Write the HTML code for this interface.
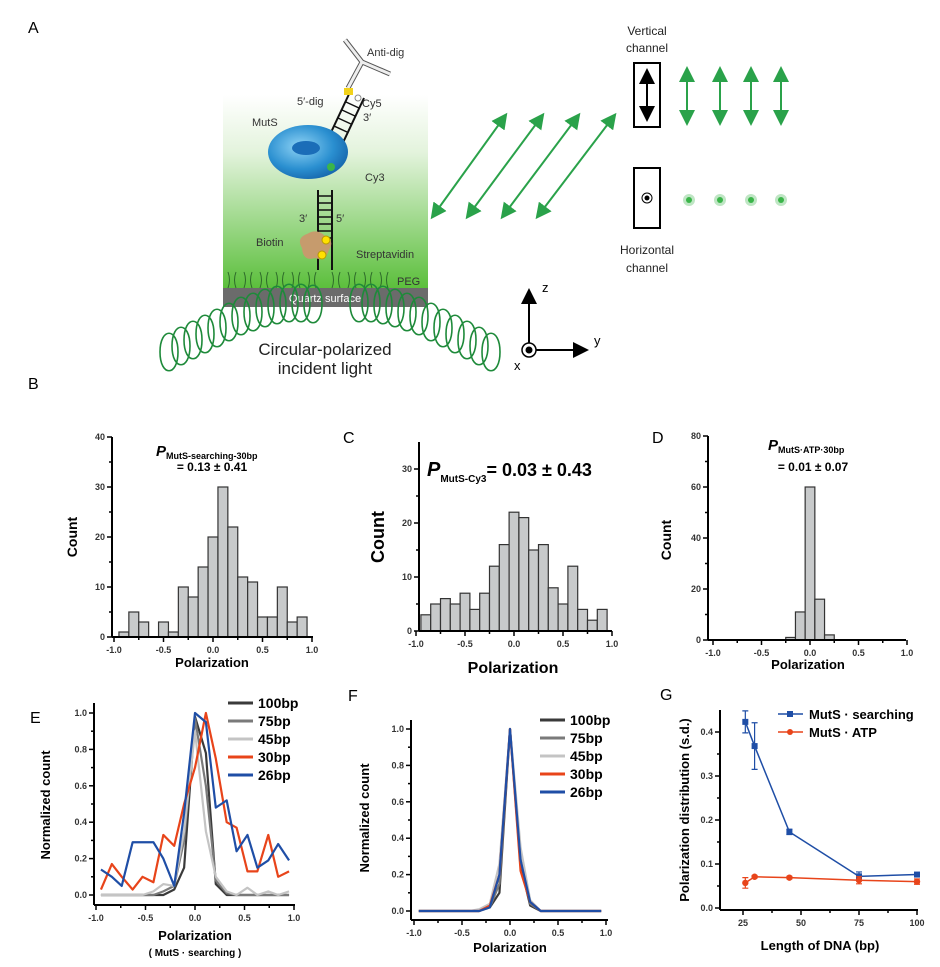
<!DOCTYPE html>
<html><head><meta charset="utf-8">
<style>
html,body{margin:0;padding:0;background:#fff;}
svg{display:block;font-family:"Liberation Sans",Arial,sans-serif;}
.tk{font-size:9px;font-weight:bold;fill:#333;}
.b{font-weight:bold;}
</style></head>
<body>
<svg id="fig" width="940" height="967" viewBox="0 0 940 967" xmlns="http://www.w3.org/2000/svg">
<defs>
<linearGradient id="gg" x1="0" y1="0" x2="0" y2="1">
<stop offset="0" stop-color="#fff"/><stop offset="0.3" stop-color="#e3f3dc"/><stop offset="1" stop-color="#5cbf3c"/>
</linearGradient>
<radialGradient id="bt" cx="0.4" cy="0.4" r="0.7">
<stop offset="0" stop-color="#8fd3f5"/><stop offset="0.6" stop-color="#2a8fd0"/><stop offset="1" stop-color="#125ea5"/>
</radialGradient>
<marker id="ag" markerWidth="8" markerHeight="8" refX="6" refY="4" orient="auto-start-reverse"><path d="M0,0 L8,4 L0,8 z" fill="#2aa24a"/></marker>
<marker id="ak" markerWidth="8" markerHeight="8" refX="6" refY="4" orient="auto-start-reverse"><path d="M0,0 L8,4 L0,8 z" fill="#000"/></marker>
</defs>

<!-- Panel labels -->
<g font-size="16" fill="#000">
<text x="28" y="33">A</text>
<text x="28" y="389">B</text>
<text x="343" y="443">C</text>
<text x="652" y="443">D</text>
<text x="30" y="723">E</text>
<text x="348" y="701">F</text>
<text x="660" y="700">G</text>
</g>

<!-- Panel A schematic -->
<g>
<rect x="223" y="95" width="205" height="193" fill="url(#gg)"/>
<rect x="223" y="288" width="205" height="19" fill="#6b6b6b"/>
<text x="325" y="302" font-size="11" fill="#fff" text-anchor="middle">Quartz surface</text>
<g stroke="#2d6a2a" stroke-width="1" fill="none">
<path d="M228,288 q3,-8 0,-16 M236,288 q-3,-8 0,-16 M244,288 q3,-8 0,-16 M252,288 q-3,-8 0,-16 M260,288 q3,-8 0,-16 M268,288 q-3,-8 0,-16 M276,288 q3,-8 0,-16 M284,288 q-3,-8 0,-16 M292,288 q3,-8 0,-16 M300,288 q-3,-8 0,-16 M308,288 q3,-8 0,-16 M316,288 q-3,-8 0,-16 M332,288 q3,-8 0,-16 M340,288 q-3,-8 0,-16 M348,288 q3,-8 0,-16 M356,288 q-3,-8 0,-16 M364,288 q3,-8 0,-16 M372,288 q-3,-8 0,-16 M380,288 q3,-8 0,-16 M388,288 q-3,-8 0,-16"/>
</g>
<text x="397" y="285" font-size="11" fill="#333">PEG</text>
<!-- helix -->
<g fill="none" stroke="#1e8a3a" stroke-width="1.6">
<path id="hx" d="M160,352 c0,-25 18,-25 18,0 M172,346 c0,-25 18,-25 18,0 M184,340 c0,-25 18,-25 18,0 M196,334 c0,-25 18,-25 18,0 M208,328 c0,-25 18,-25 18,0 M220,322 c0,-25 18,-25 18,0 M232,316 c0,-25 18,-25 18,0 M244,312 c0,-25 18,-25 18,0 M256,308 c0,-25 18,-25 18,0 M268,305 c0,-25 18,-25 18,0 M280,303 c0,-25 18,-25 18,0 M292,303 c0,-25 18,-25 18,0 M304,304 c0,-25 18,-25 18,0"/>
<path d="M160,352 c0,25 18,25 18,0 M172,346 c0,25 18,25 18,0 M184,340 c0,25 18,25 18,0 M196,334 c0,25 18,25 18,0 M208,328 c0,25 18,25 18,0 M220,322 c0,25 18,25 18,0 M232,316 c0,25 18,25 18,0 M244,312 c0,25 18,25 18,0 M256,308 c0,25 18,25 18,0 M268,305 c0,25 18,25 18,0 M280,303 c0,25 18,25 18,0 M292,303 c0,25 18,25 18,0 M304,304 c0,25 18,25 18,0"/>
<g transform="translate(660,0) scale(-1,1)">
<path d="M160,352 c0,-25 18,-25 18,0 M172,346 c0,-25 18,-25 18,0 M184,340 c0,-25 18,-25 18,0 M196,334 c0,-25 18,-25 18,0 M208,328 c0,-25 18,-25 18,0 M220,322 c0,-25 18,-25 18,0 M232,316 c0,-25 18,-25 18,0 M244,312 c0,-25 18,-25 18,0 M256,308 c0,-25 18,-25 18,0 M268,305 c0,-25 18,-25 18,0 M280,303 c0,-25 18,-25 18,0 M292,303 c0,-25 18,-25 18,0"/>
<path d="M160,352 c0,25 18,25 18,0 M172,346 c0,25 18,25 18,0 M184,340 c0,25 18,25 18,0 M196,334 c0,25 18,25 18,0 M208,328 c0,25 18,25 18,0 M220,322 c0,25 18,25 18,0 M232,316 c0,25 18,25 18,0 M244,312 c0,25 18,25 18,0 M256,308 c0,25 18,25 18,0 M268,305 c0,25 18,25 18,0 M280,303 c0,25 18,25 18,0 M292,303 c0,25 18,25 18,0"/>
</g>
</g>
<text x="325" y="355" font-size="17" fill="#222" text-anchor="middle">Circular-polarized</text>
<text x="325" y="374" font-size="17" fill="#222" text-anchor="middle">incident light</text>
<!-- DNA -->
<g stroke="#111" stroke-width="2">
<line x1="318" y1="270" x2="318" y2="190"/><line x1="332" y1="270" x2="332" y2="190"/>
<path d="M318,196h14M318,203h14M318,210h14M318,217h14M318,224h14M318,231h14M318,238h14" stroke-width="1.5"/>
<line x1="318" y1="160" x2="350" y2="92"/><line x1="332" y1="166" x2="364" y2="98"/>
<path d="M322,150l13,6M326,142l13,6M330,134l13,6M334,126l13,6M338,118l13,6M342,110l13,6M346,102l13,6" stroke-width="1.5"/>
</g>
<ellipse cx="308" cy="152" rx="40" ry="27" fill="url(#bt)"/>
<ellipse cx="306" cy="148" rx="14" ry="7" fill="#1b6db8"/>
<g stroke="#444" stroke-width="1.2" fill="#fff">
<path d="M348,88 L362,62 L345,40 M362,62 L390,74" fill="none" stroke-width="5" stroke="#555"/>
<path d="M348,88 L362,62 L345,40 M362,62 L390,74" fill="none" stroke-width="3" stroke="#eee"/>
</g>
<rect x="344" y="88" width="9" height="7" fill="#f2d21a"/>
<circle cx="358" cy="98" r="3" fill="none" stroke="#888"/>
<circle cx="331" cy="167" r="4" fill="#3bb54a"/>
<path d="M302,248 q-6,-10 5,-14 q10,-6 18,2 q10,4 4,14 q-4,12 -14,8 q-12,4 -13,-10z" fill="#c69b6d"/>
<circle cx="326" cy="240" r="4" fill="#ffe100" stroke="#b89a00"/>
<circle cx="322" cy="255" r="4" fill="#ffe100" stroke="#b89a00"/>
<g font-size="11" fill="#333">
<text x="367" y="56">Anti-dig</text><text x="297" y="105">5′-dig</text><text x="362" y="107">Cy5</text><text x="363" y="121">3′</text>
<text x="252" y="126">MutS</text><text x="365" y="181">Cy3</text><text x="299" y="222">3′</text><text x="336" y="222">5′</text>
<text x="256" y="246">Biotin</text><text x="356" y="258">Streptavidin</text>
</g>
<g stroke="#2aa24a" stroke-width="2" marker-start="url(#ag)" marker-end="url(#ag)">
<line x1="433" y1="216" x2="505" y2="116"/><line x1="468" y1="216" x2="542" y2="116"/><line x1="503" y1="216" x2="578" y2="116"/><line x1="538" y1="216" x2="614" y2="116"/>
</g>
<text x="647" y="35" font-size="12" text-anchor="middle" fill="#222">Vertical</text>
<text x="647" y="52" font-size="12" text-anchor="middle" fill="#222">channel</text>
<rect x="634" y="63" width="26" height="64" fill="none" stroke="#000" stroke-width="2"/>
<line x1="647" y1="72" x2="647" y2="118" stroke="#000" stroke-width="2" marker-start="url(#ak)" marker-end="url(#ak)"/>
<rect x="634" y="168" width="26" height="60" fill="none" stroke="#000" stroke-width="2"/>
<circle cx="647" cy="198" r="5" fill="none" stroke="#000"/><circle cx="647" cy="198" r="2.5" fill="#000"/>
<text x="647" y="254" font-size="12" text-anchor="middle" fill="#222">Horizontal</text>
<text x="647" y="272" font-size="12" text-anchor="middle" fill="#222">channel</text>
<g stroke="#2aa24a" stroke-width="2" marker-start="url(#ag)" marker-end="url(#ag)">
<line x1="687" y1="70" x2="687" y2="122"/><line x1="720" y1="70" x2="720" y2="122"/><line x1="751" y1="70" x2="751" y2="122"/><line x1="781" y1="70" x2="781" y2="122"/>
</g>
<g fill="#3bb54a">
<circle cx="689" cy="200" r="6" fill="#bfe6c4"/><circle cx="689" cy="200" r="3"/>
<circle cx="720" cy="200" r="6" fill="#bfe6c4"/><circle cx="720" cy="200" r="3"/>
<circle cx="751" cy="200" r="6" fill="#bfe6c4"/><circle cx="751" cy="200" r="3"/>
<circle cx="781" cy="200" r="6" fill="#bfe6c4"/><circle cx="781" cy="200" r="3"/>
</g>
<g>
<line x1="529" y1="350" x2="529" y2="292" stroke="#000" stroke-width="2" marker-end="url(#ak)"/>
<line x1="529" y1="350" x2="585" y2="350" stroke="#000" stroke-width="2" marker-end="url(#ak)"/>
<circle cx="529" cy="350" r="7" fill="#fff" stroke="#000" stroke-width="1.5"/><circle cx="529" cy="350" r="3.5" fill="#000"/>
<text x="542" y="292" font-size="13">z</text><text x="594" y="345" font-size="13">y</text><text x="514" y="370" font-size="13">x</text>
</g>
</g>

<g id="charts"></g>
</svg>
<script>
// ===== Panel B data =====
const bBinCenters = [-0.9,-0.8,-0.7,-0.6,-0.5,-0.4,-0.3,-0.2,-0.1,0,0.1,0.2,0.3,0.4,0.5,0.6,0.7,0.8,0.9];
const bCounts = [1,5,3,0,3,1,10,8,14,20,30,22,12,11,4,4,10,3,4];
const bYTicks = [0,10,20,30,40];
// ===== Panel C data =====
const cBinCenters = [-0.9,-0.8,-0.7,-0.6,-0.5,-0.4,-0.3,-0.2,-0.1,0,0.1,0.2,0.3,0.4,0.5,0.6,0.7,0.8,0.9];
const cCounts = [3,5,6,5,7,4,7,12,16,22,21,15,16,8,5,12,4,2,4];
const cYTicks = [0,10,20,30];
// ===== Panel D data =====
const dBinCenters = [-0.2,-0.1,0,0.1,0.2];
const dCounts = [1,11,60,16,2];
const dYTicks = [0,20,40,60,80];
const polTicks = [-1.0,-0.5,0.0,0.5,1.0];
const polTickLabels = ["-1.0","-0.5","0.0","0.5","1.0"];
// ===== Panel E data =====
const eX = [-0.95,-0.84,-0.74,-0.63,-0.53,-0.42,-0.32,-0.21,-0.11,0,0.11,0.21,0.32,0.42,0.53,0.63,0.74,0.84,0.95];
const e100 = [0,0,0,0,0,0,0,0.03,0.15,0.98,0.78,0.06,0,0,0,0,0,0,0];
const e75  = [0,0,0,0,0,0,0.02,0.05,0.3,0.97,0.6,0.08,0.01,0,0,0,0,0,0];
const e45  = [0,0,0,0,0,0.02,0.06,0.05,0.35,0.9,0.35,0.1,0.02,0,0.04,0,0.02,0,0.02];
const e30  = [0.03,0.17,0.1,0.03,0.1,0.07,0.33,0.27,0.5,0.7,1.0,0.75,0.4,0.37,0.13,0.13,0.33,0.1,0.13];
const e26  = [0.14,0.1,0.05,0.29,0.29,0.29,0.2,0.05,0.45,1.0,0.95,0.48,0.52,0.24,0.33,0.15,0.19,0.28,0.19];
// ===== Panel F data =====
const fX = [-0.95,-0.84,-0.74,-0.63,-0.53,-0.42,-0.32,-0.21,-0.11,0,0.11,0.21,0.32,0.42,0.53,0.63,0.74,0.84,0.95];
const f100 = [0,0,0,0,0,0,0,0.02,0.1,1.0,0.25,0.03,0,0,0,0,0,0,0];
const f75  = [0,0,0,0,0,0,0,0.02,0.15,1.0,0.3,0.04,0,0,0,0,0,0,0];
const f45  = [0,0,0,0,0,0,0.01,0.04,0.26,1.0,0.35,0.06,0,0,0,0,0,0,0];
const f30  = [0,0,0,0,0,0,0,0.03,0.2,1.0,0.22,0.05,0,0,0,0,0,0,0];
const f26  = [0,0,0,0,0,0,0,0.02,0.2,1.0,0.28,0.05,0,0,0,0,0,0,0];
const seriesLabels = ["100bp","75bp","45bp","30bp","26bp"];
const normTicks = [0,0.2,0.4,0.6,0.8,1.0];
// ===== Panel G data =====
const gLengths = [26,30,45,75,100];
const gSearch = [0.423,0.368,0.173,0.072,0.076];
const gSearchErr = [0.025,0.053,0.006,0.01,0.004];
const gATP = [0.057,0.071,0.069,0.063,0.06];
const gATPErr = [0.012,0.003,0.003,0.008,0.006];
const gXTicks = [25,50,75,100];
const gYTicks = [0,0.1,0.2,0.3,0.4];

const NS="http://www.w3.org/2000/svg";
const root=document.getElementById('charts');
function mk(tag,attrs,parent){const e=document.createElementNS(NS,tag);for(const k in attrs)e.setAttribute(k,attrs[k]);(parent||root).appendChild(e);return e;}
function txt(x,y,s,attrs,parent){const t=mk('text',Object.assign({x:x,y:y},attrs||{}),parent);t.textContent=s;return t;}

function axes(g,c){
  // c: axX, top, bottom(y of x axis), right, xs(v), ys(v), xTicks, xLabels, xMinor, yTicks, yLabels, yMinor
  const yAx=mk('line',{x1:c.axX,y1:c.top,x2:c.axX,y2:c.bottom,stroke:'#000','stroke-width':2},g);
  
  
  const xAx=mk('line',{x1:c.axX,y1:c.bottom,x2:c.right,y2:c.bottom,stroke:'#000','stroke-width':2},g);
  
  
  c.xTicks.forEach((v,i)=>{const x=c.xs(v);mk('line',{x1:x,y1:c.bottom,x2:x,y2:c.bottom+5,stroke:'#000','stroke-width':1.5},g);
    const t=txt(x,c.bottom+16,c.xLabels[i],{'class':'tk','text-anchor':'middle','font-size':c.fs||9},g);
    
    });
  (c.xMinor||[]).forEach(v=>{const x=c.xs(v);mk('line',{x1:x,y1:c.bottom,x2:x,y2:c.bottom+3,stroke:'#000','stroke-width':1.5},g);});
  c.yTicks.forEach((v,i)=>{const y=c.ys(v);mk('line',{x1:c.axX-5,y1:y,x2:c.axX,y2:y,stroke:'#000','stroke-width':1.5},g);
    const t=txt(c.axX-7,y+3,c.yLabels[i],{'class':'tk','text-anchor':'end','font-size':c.fs||9},g);
    
    });
  (c.yMinor||[]).forEach(v=>{const y=c.ys(v);mk('line',{x1:c.axX-3,y1:y,x2:c.axX,y2:y,stroke:'#000','stroke-width':1.5},g);});
}

function histogram(name,centers,counts,yTicks,cfg){
  const g=mk('g',{});
  
  
  const xs=v=>cfg.ox+cfg.sx*v, ys=v=>cfg.oy-cfg.sy*v;
  centers.forEach((cv,i)=>{ if(counts[i]<=0) return;
    const x0=xs(cv-0.05),x1=xs(cv+0.05);
    const r=mk('rect',{x:x0,y:ys(counts[i]),width:x1-x0,height:cfg.sy*counts[i],fill:'#c8cacb',stroke:'#333','stroke-width':1.2},g);
    
    
  });
  const step=yTicks[1]-yTicks[0];
  const ym=[];yTicks.slice(0,-1).forEach(v=>ym.push(v+step/2));
  axes(g,{axX:cfg.axX,top:cfg.top,bottom:cfg.oy,right:cfg.right,xs:xs,ys:ys,xTicks:polTicks,xLabels:polTickLabels,xMinor:[-0.75,-0.25,0.25,0.75],yTicks:yTicks,yLabels:yTicks.map(String),yMinor:ym,fs:cfg.fs});
  return g;
}

// B
const gB=histogram('histogram-b',bBinCenters,bCounts,bYTicks,{ox:213,sx:99,oy:637,sy:5,axX:112,top:437,right:313});
let t;
t=txt(77,537,'Count',{'class':'b','font-size':14,'text-anchor':'middle',transform:'rotate(-90 77 537)'},gB);


t=txt(212,667,'Polarization',{'class':'b','font-size':13,'text-anchor':'middle'},gB);


t=mk('text',{x:156,y:456,'class':'b'},gB);t.innerHTML='<tspan font-style="italic" font-size="15">P</tspan><tspan font-size="9" dy="3">MutS-searching-30bp</tspan>';


t=txt(212,471,'= 0.13 ± 0.41',{'class':'b','font-size':12,'text-anchor':'middle'},gB);



// C
const gC=histogram('histogram-c',cBinCenters,cCounts,cYTicks,{ox:514,sx:98,oy:631,sy:5.4,axX:419,top:442,right:612,fs:10});
t=txt(384,537,'Count',{'class':'b','font-size':18,'text-anchor':'middle',transform:'rotate(-90 384 537)'},gC);


t=txt(513,673,'Polarization',{'class':'b','font-size':16,'text-anchor':'middle'},gC);


t=mk('text',{x:427,y:476,'class':'b'},gC);t.innerHTML='<tspan font-style="italic" font-size="20">P</tspan><tspan font-size="10" dy="6">MutS-Cy3</tspan><tspan font-size="18" dy="-6">= 0.03 ± 0.43</tspan>';



// D
const gD=histogram('histogram-d',dBinCenters,dCounts,dYTicks,{ox:810,sx:97,oy:640,sy:2.55,axX:708,top:436,right:906});
t=txt(671,540,'Count',{'class':'b','font-size':14,'text-anchor':'middle',transform:'rotate(-90 671 540)'},gD);


t=txt(808,669,'Polarization',{'class':'b','font-size':13,'text-anchor':'middle'},gD);


t=mk('text',{x:768,y:450,'class':'b'},gD);t.innerHTML='<tspan font-style="italic" font-size="15">P</tspan><tspan font-size="9" dy="3">MutS·ATP·30bp</tspan>';


t=txt(813,471,'= 0.01 ± 0.07',{'class':'b','font-size':12,'text-anchor':'middle'},gD);



const colors=['#3a3a3a','#7a7a7a','#c4c4c4','#e8441a','#1f4ea6'];
function lineChart(name,xv,series,cfg){
  const g=mk('g',{});
  
  
  const xs=v=>cfg.ox+cfg.sx*v, ys=v=>cfg.oy-cfg.sy*v;
  axes(g,{axX:cfg.axX,top:cfg.top,bottom:cfg.bottom,right:cfg.right,xs:xs,ys:ys,xTicks:polTicks,xLabels:polTickLabels,xMinor:[-0.75,-0.25,0.25,0.75],yTicks:normTicks,yLabels:normTicks.map(v=>v.toFixed(1)),yMinor:[0.1,0.3,0.5,0.7,0.9]});
  series.forEach((s,k)=>{
    const p=mk('polyline',{points:xv.map((x,i)=>xs(x)+','+ys(s[i])).join(' '),fill:'none',stroke:colors[k],'stroke-width':2.2,'stroke-linejoin':'round'},g);
    
    
    const ly=cfg.legY+k*18;
    const l=mk('line',{x1:cfg.legX,y1:ly,x2:cfg.legX+25,y2:ly,stroke:colors[k],'stroke-width':3},g);
    
    
    const lt=txt(cfg.legX+30,ly+5,seriesLabels[k],{'class':'b','font-size':14},g);
    
    
  });
  return g;
}
const gE=lineChart('line-chart-e',eX,[e100,e75,e45,e30,e26],{ox:195,sx:99,oy:895,sy:182,axX:94,top:703,bottom:905,right:295,legX:228,legY:703});
t=txt(50,805,'Normalized count',{'class':'b','font-size':13,'text-anchor':'middle',transform:'rotate(-90 50 805)'},gE);


t=txt(195,940,'Polarization',{'class':'b','font-size':13,'text-anchor':'middle'},gE);


t=txt(195,956,'( MutS · searching )',{'class':'b','font-size':10,'text-anchor':'middle'},gE);



const gF=lineChart('line-chart-f',fX,[f100,f75,f45,f30,f26],{ox:510,sx:96,oy:911,sy:182,axX:411,top:720,bottom:920,right:608,legX:540,legY:720});
t=txt(369,818,'Normalized count',{'class':'b','font-size':13,'text-anchor':'middle',transform:'rotate(-90 369 818)'},gF);


t=txt(510,952,'Polarization',{'class':'b','font-size':13,'text-anchor':'middle'},gF);



// G
(function(){
  const g=mk('g',{});
  
  
  const xs=v=>743+(v-25)*2.32, ys=v=>908-440*v;
  axes(g,{axX:720,top:710,bottom:910,right:918,xs:xs,ys:ys,xTicks:gXTicks,xLabels:gXTicks.map(String),xMinor:[37.5,62.5,87.5],yTicks:gYTicks,yLabels:gYTicks.map(v=>v.toFixed(1)),yMinor:[0.05,0.15,0.25,0.35]});
  const sets=[[gSearch,gSearchErr,'#1f4ea6','square','MutS · searching'],[gATP,gATPErr,'#e8441a','circle','MutS · ATP']];
  sets.forEach((s,k)=>{
    const p=mk('polyline',{points:gLengths.map((x,i)=>xs(x)+','+ys(s[0][i])).join(' '),fill:'none',stroke:s[2],'stroke-width':1.5},g);
    
    
    gLengths.forEach((x,i)=>{
      const cx=xs(x),cy=ys(s[0][i]),e=440*s[1][i];
      const eb=mk('path',{d:`M${cx},${cy-e}V${cy+e}M${cx-3},${cy-e}h6M${cx-3},${cy+e}h6`,stroke:s[2],'stroke-width':1.2,fill:'none'},g);
      
      
      const m=s[3]==='square'?mk('rect',{x:cx-3,y:cy-3,width:6,height:6,fill:s[2]},g):mk('circle',{cx:cx,cy:cy,r:3.2,fill:s[2]},g);
      
      
    });
    const ly=714+k*18;
    const l=mk('line',{x1:778,y1:ly,x2:803,y2:ly,stroke:s[2],'stroke-width':1.5},g);
    
    
    const m=s[3]==='square'?mk('rect',{x:787,y:ly-3,width:6,height:6,fill:s[2]},g):mk('circle',{cx:790,cy:ly,r:3,fill:s[2]},g);
    
    
    const lt=txt(809,ly+5,s[4],{'class':'b','font-size':13},g);
    
    
  });
  t=txt(689,810,'Polarization distribution (s.d.)',{'class':'b','font-size':13,'text-anchor':'middle',transform:'rotate(-90 689 810)'},g);
  
  
  t=txt(820,950,'Length of DNA (bp)',{'class':'b','font-size':13,'text-anchor':'middle'},g);
  
  
})();
</script>
</body></html>
